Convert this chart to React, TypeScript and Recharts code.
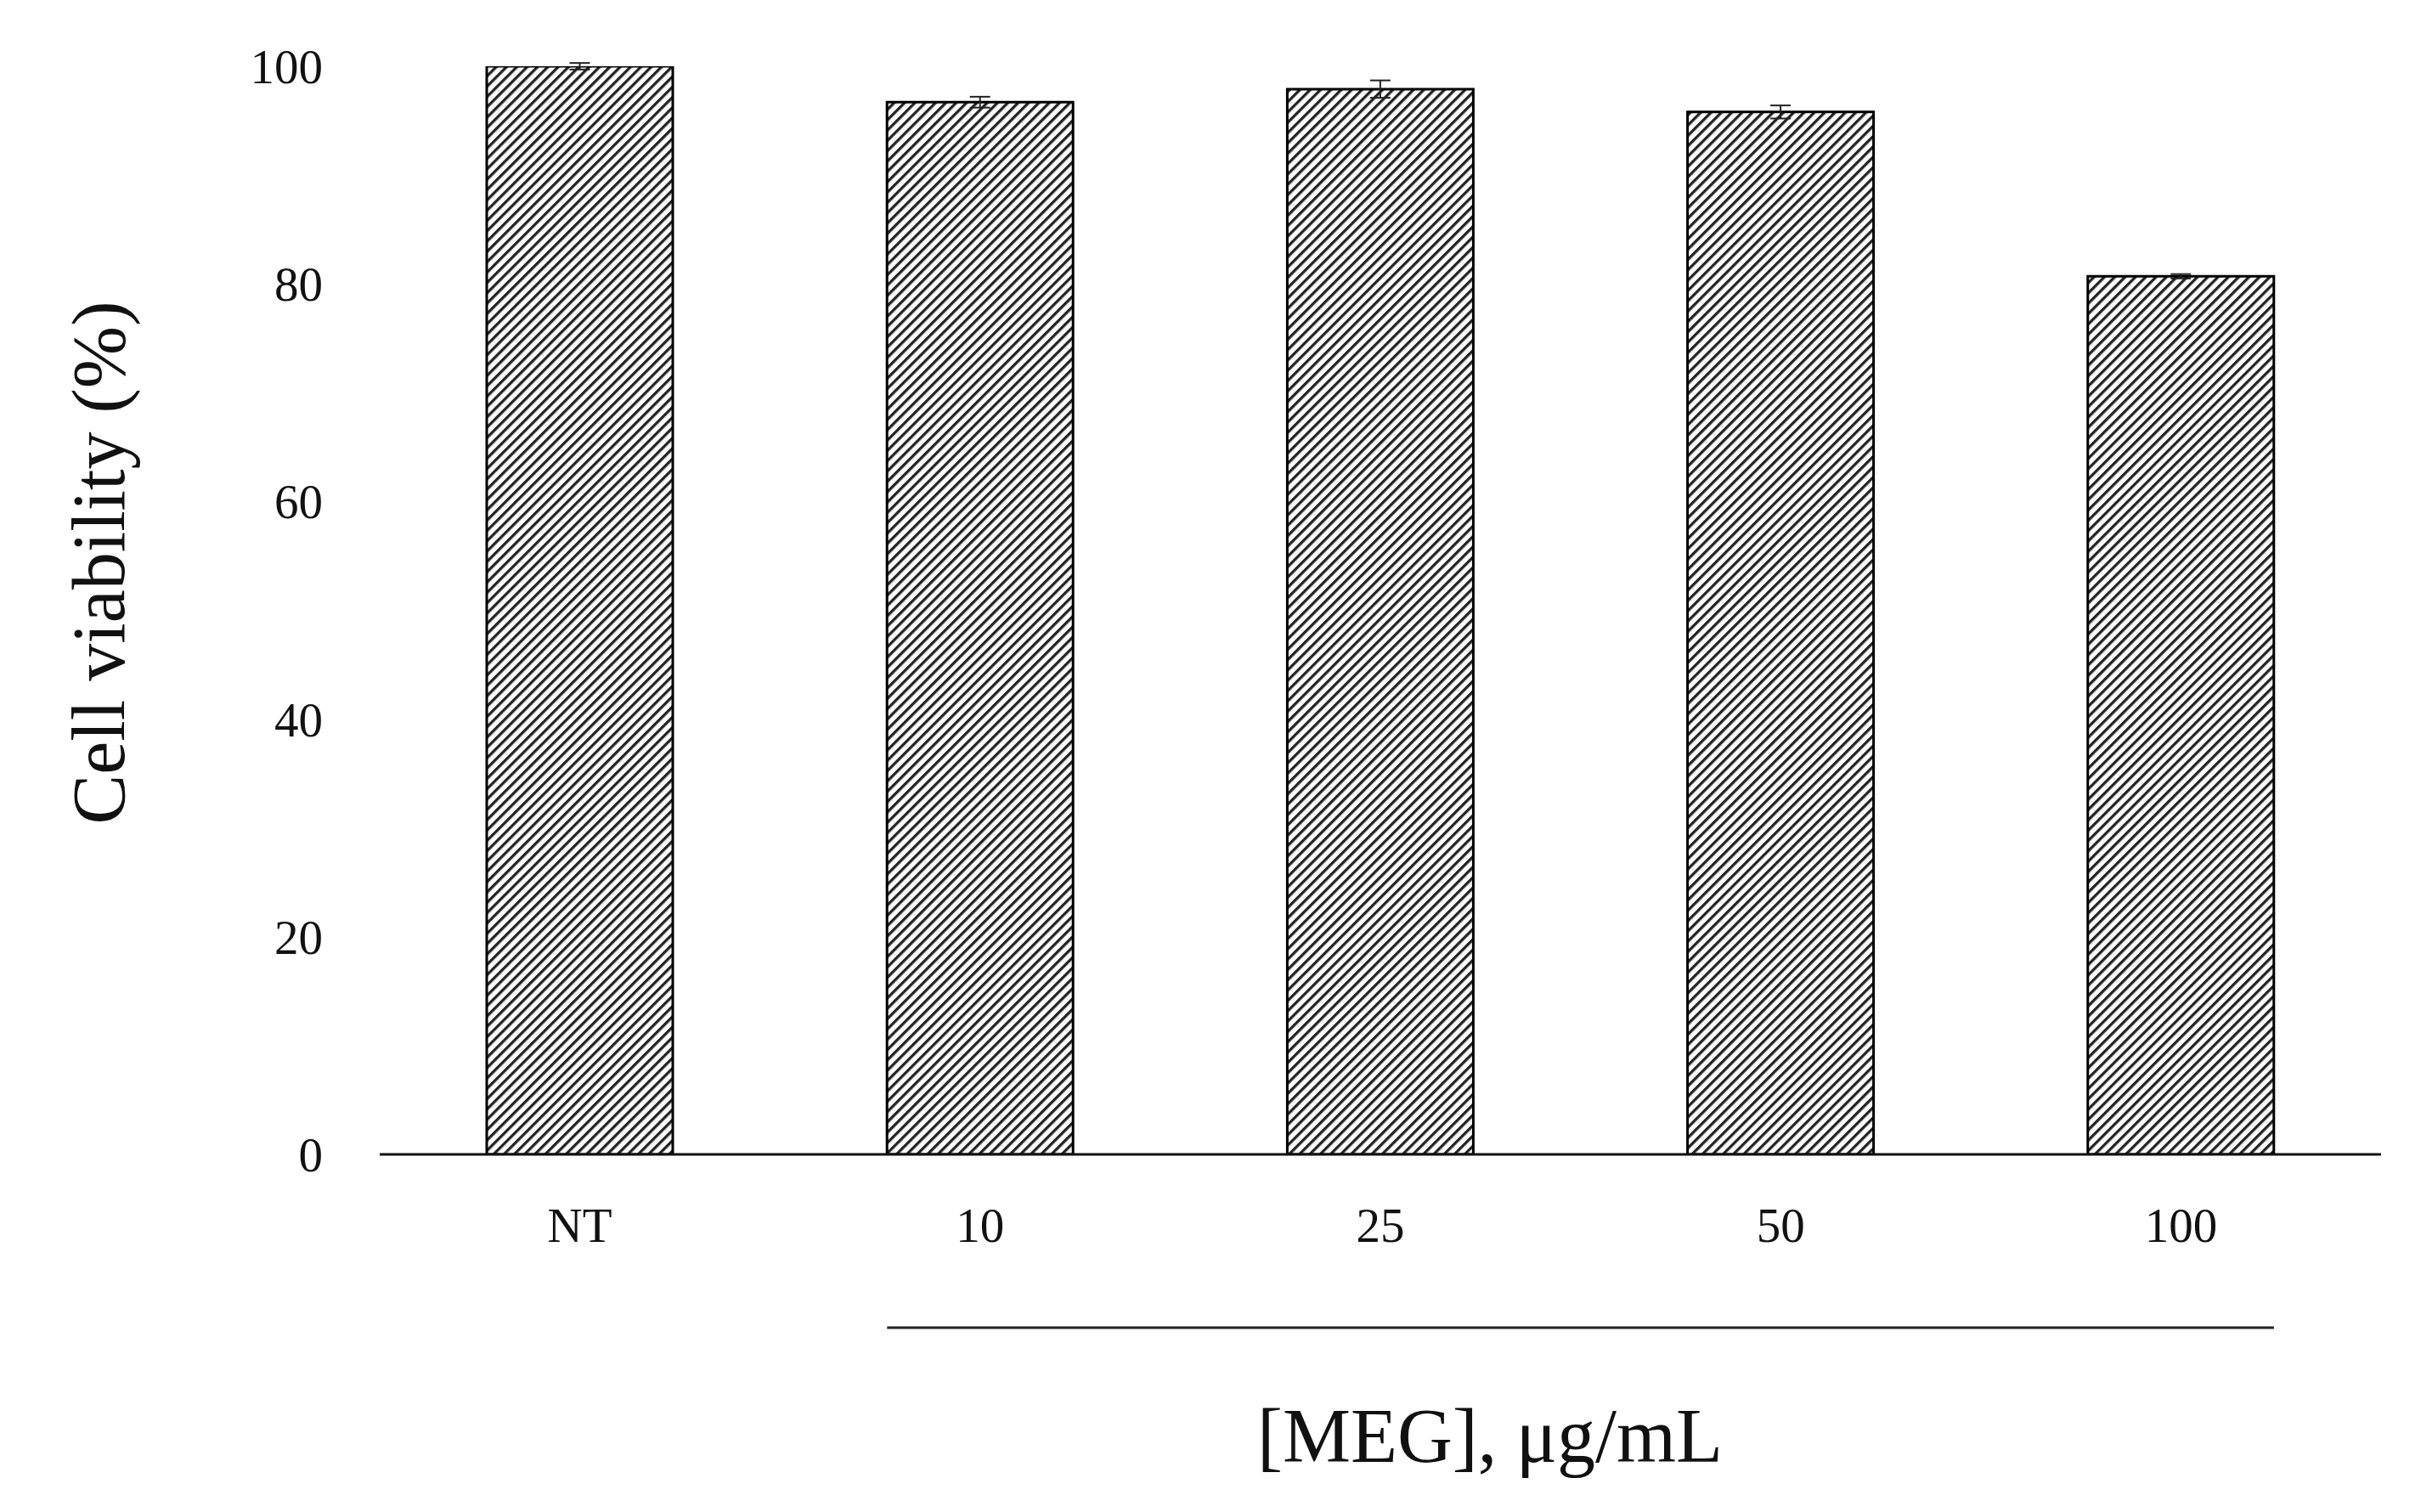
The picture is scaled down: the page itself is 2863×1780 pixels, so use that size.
import React from "react";
import { BarChart, Bar, XAxis, YAxis, ErrorBar } from "recharts";

const categories = ["NT", "10", "25", "50", "100"];
const viability = [100, 96.7, 97.9, 95.8, 80.7];
const errors = [0.3, 0.5, 0.8, 0.6, 0.2];
const yTicks = [0, 20, 40, 60, 80, 100];

const data = categories.map((c, i) => ({ name: c, value: viability[i], err: errors[i] }));

const FONT = "'Liberation Serif', 'Times New Roman', serif";
const BAR_SIZE = 219;

const XTick = (props: any) => {
  const { x, y, payload } = props;
  return (
    <text x={x} y={y} dy={103} textAnchor="middle" fontFamily={FONT} fontSize={57} fill="#111">
      {payload.value}
    </text>
  );
};

const YTick = (props: any) => {
  const { x, y, payload } = props;
  return (
    <text x={x - 67} y={y} dy={20} textAnchor="end" fontFamily={FONT} fontSize={57} fill="#111">
      {payload.value}
    </text>
  );
};

const XLabel = (props: any) => {
  const vb = props.viewBox;
  const band = vb.width / categories.length;
  const x1 = vb.x + band * 1.5 - BAR_SIZE / 2;
  const x2 = vb.x + band * (categories.length - 0.5) + BAR_SIZE / 2;
  return (
    <g>
      <line x1={x1} x2={x2} y1={vb.y + 204} y2={vb.y + 204} stroke="#222" strokeWidth={3} />
      <text x={vb.x + vb.width / 2 + 129} y={vb.y + 362} textAnchor="middle" fontFamily={FONT} fontSize={90} fill="#111">
        [MEG], μg/mL
      </text>
    </g>
  );
};

const YLabel = (props: any) => {
  const vb = props.viewBox;
  const cx = vb.x - 201;
  const cy = vb.y + vb.height / 2 - 56;
  return (
    <text x={cx} y={cy} transform={`rotate(-90, ${cx}, ${cy})`} textAnchor="middle" fontFamily={FONT} fontSize={88} fill="#111">
      Cell viability (%)
    </text>
  );
};

export default function App() {
  return (
    <div style={{ width: 2855, height: 1772, background: "#fff" }}>
      <BarChart
        width={2855}
        height={1772}
        data={data}
        margin={{ top: 70, right: 60, bottom: 321, left: 339 }}
      >
        <defs>
          <pattern id="hatch" patternUnits="userSpaceOnUse" width={8.6} height={8.6} patternTransform="rotate(45)">
            <rect x={0} y={0} width={8.6} height={8.6} fill="#fff" />
            <rect x={0} y={0} width={3.3} height={8.6} fill="#222" />
          </pattern>
        </defs>
        <XAxis
          dataKey="name"
          height={100}
          axisLine={{ stroke: "#111", strokeWidth: 3 }}
          tickLine={false}
          tickSize={0}
          tickMargin={0}
          tick={<XTick />}
          interval={0}
          label={XLabel}
        />
        <YAxis
          width={100}
          domain={[0, 100]}
          ticks={yTicks}
          allowDataOverflow
          axisLine={false}
          tickLine={false}
          tickSize={0}
          tickMargin={0}
          tick={<YTick />}
          interval={0}
          label={YLabel}
        />
        <Bar dataKey="value" barSize={BAR_SIZE} fill="url(#hatch)" stroke="#000" strokeWidth={3} isAnimationActive={false}>
          <ErrorBar dataKey="err" width={12} stroke="#222" strokeWidth={2} direction="y" />
        </Bar>
      </BarChart>
    </div>
  );
}
